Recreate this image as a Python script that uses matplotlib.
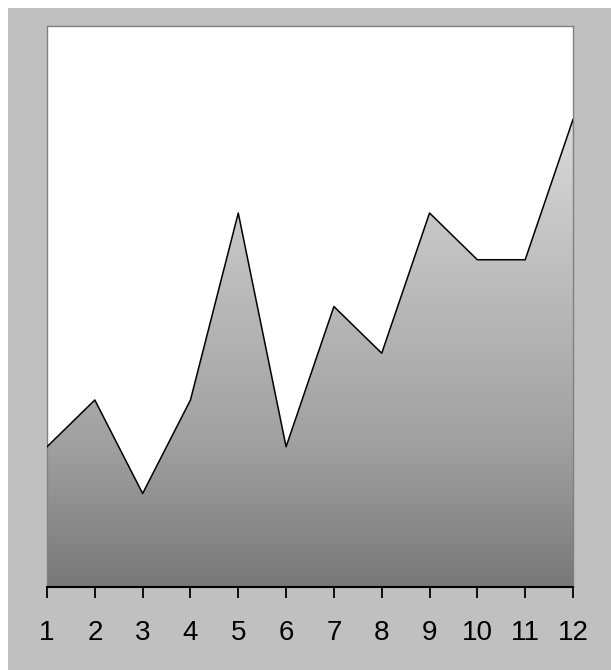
import matplotlib
matplotlib.use('Agg')
import matplotlib.pyplot as plt
from matplotlib.colors import LinearSegmentedColormap
from matplotlib.patches import Rectangle
import numpy as np

plt.rcParams['font.family'] = ['Liberation Sans', 'DejaVu Sans']

x_vals = [1, 2, 3, 4, 5, 6, 7, 8, 9, 10, 11, 12]
y_vals = [3, 4, 2, 4, 8, 3, 6, 5, 8, 7, 7, 10]
tick_labels = [str(v) for v in x_vals]

fig = plt.figure(figsize=(6.11, 6.70), dpi=100)
fig.patch.set_facecolor('#c0c0c0')
# white strip at left and top like the source image
fig.patches.append(Rectangle((0, 0), 8 / 611, 1, transform=fig.transFigure,
                             facecolor='white', edgecolor='none', zorder=-1))
fig.patches.append(Rectangle((0, 1 - 8 / 670), 1, 8 / 670, transform=fig.transFigure,
                             facecolor='white', edgecolor='none', zorder=-1))

ax = fig.add_axes([47 / 611, (670 - 587) / 670, 526 / 611, 561 / 670])
ax.set_facecolor('white')
ax.set_xlim(1, 12)
ax.set_ylim(0, 12)

# vertical grey gradient clipped to the area under the line
cmap = LinearSegmentedColormap.from_list(
    'greys', [(0.0, '#787878'), (0.3, '#a0a0a0'), (0.8, '#c8c8c8'), (1.0, '#dadada')])
grad = np.linspace(0, 1, 256).reshape(-1, 1)
poly = ax.fill_between(x_vals, y_vals, 0, facecolor='none', edgecolor='none')
im = ax.imshow(grad, extent=[1, 12, 0, max(y_vals)], origin='lower', cmap=cmap,
               aspect='auto', zorder=1)
im.set_clip_path(poly.get_paths()[0], transform=ax.transData)
ax.plot(x_vals, y_vals, color='black', linewidth=1.1, zorder=3)

ax.set_xticks(x_vals)
ax.set_xticklabels(tick_labels, fontsize=20, color='#1a1a1a')
ax.set_yticks([])
ax.tick_params(axis='x', direction='out', length=8, width=1.3, pad=16, colors='black')

for side in ['left', 'top', 'right']:
    ax.spines[side].set_color('#808080')
    ax.spines[side].set_linewidth(1)
ax.spines['bottom'].set_color('black')
ax.spines['bottom'].set_linewidth(1.5)
ax.spines['bottom'].set_zorder(4)

fig.savefig('out.png', dpi=100, facecolor=fig.get_facecolor())
